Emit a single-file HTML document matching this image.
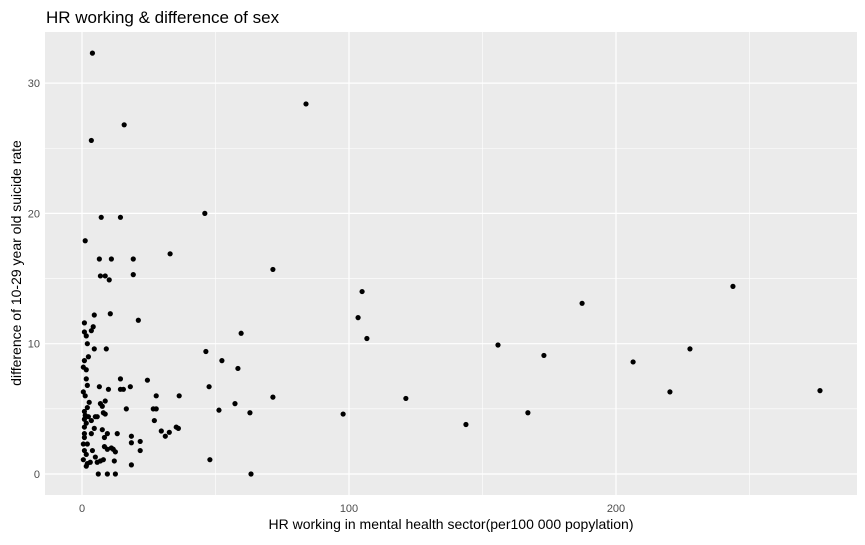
<!DOCTYPE html>
<html><head><meta charset="utf-8"><style>
body{margin:0;background:#fff;font-family:"Liberation Sans",Arial,sans-serif}
</style></head><body>
<svg id="chart" width="865" height="540" xmlns="http://www.w3.org/2000/svg">
<text x="46" y="23" font-size="17" fill="#000">HR working &amp; difference of sex</text>
<rect x="45" y="32" width="812" height="463" fill="#ebebeb"/>
<g id="grid"></g><g id="ticks"></g><g id="pts"></g>
<text x="451" y="529" font-size="14" text-anchor="middle" fill="#000">HR working in mental health sector(per100 000 popylation)</text>
<text transform="translate(21,263) rotate(-90)" font-size="14" text-anchor="middle" fill="#000">difference of 10-29 year old suicide rate</text>
</svg>
<script>
const xs=[3.9,15.8,3.5,7.2,14.4,1.2,6.5,11,19.2,33,6.9,8.7,10.2,19.2,
4.6,10.6,21.1,0.9,4.2,3.5,0.9,1.6,2.0,4.6,9.1,2.4,0.9,0.5,1.6,1.6,14.4,24.5,2,6.5,9.9,14.4,15.5,18.1,0.5,1.2,27.8,36.4,2.7,6.9,8.7,7.6,2,16.6,26.7,27.8,0.9,8,8.7,1.2,2.4,5.7,5,0.9,3.5,27.1,1.6,0.9,4.6,7.6,35.3,36.1,29.7,32.7,0.9,3.5,9.5,13.2,31.2,8.4,18.5,0.9,0.5,2,18.5,21.8,8.4,9.5,11,11.7,12.5,0.9,3.9,21.8,1.6,5,0.5,3.1,8,6.9,5.7,12.1,2,1.6,18.5,6.1,9.5,12.5,
46,71.5,83.9,104.9,103.4,106.7,59.6,46.4,52.4,58.4,47.6,71.5,57.3,51.3,62.9,47.9,63.3,97.8,121.3,143.8,155.8,167,173,187.3,206.4,220.2,227.7,243.8,276.4];
const ys=[32.3,26.8,25.6,19.7,19.7,17.9,16.5,16.5,16.5,16.9,15.2,15.2,14.9,15.3,
12.2,12.3,11.8,11.6,11.3,11.0,10.9,10.6,10.0,9.6,9.6,9.0,8.7,8.2,8.0,7.3,7.3,7.2,6.8,6.7,6.5,6.5,6.5,6.7,6.3,6.0,6.0,6.0,5.5,5.4,5.6,5.2,5.1,5.0,5.0,5.0,4.8,4.7,4.6,4.5,4.4,4.4,4.4,4.2,4.1,4.1,3.9,3.6,3.5,3.4,3.6,3.5,3.3,3.2,3.1,3.1,3.1,3.1,2.9,2.8,2.9,2.8,2.3,2.3,2.4,2.5,2.1,1.9,2.0,1.9,1.7,1.8,1.8,1.8,1.5,1.3,1.1,0.9,1.1,1.0,0.9,1.0,0.8,0.6,0.7,0,0,0,
20,15.7,28.4,14.0,12.0,10.4,10.8,9.4,8.7,8.1,6.7,5.9,5.4,4.9,4.7,1.1,0,4.6,5.8,3.8,9.9,4.7,9.1,13.1,8.6,6.3,9.6,14.4,6.4];
const xTicks=[0,100,200];
const yTicks=[0,10,20,30];
const X=v=>82+v*2.67, Y=v=>474-v*13.03;
const ns="http://www.w3.org/2000/svg";
function mk(p,t,a){const e=document.createElementNS(ns,t);for(const k in a)e.setAttribute(k,a[k]);document.getElementById(p).appendChild(e);return e;}
xTicks.forEach(v=>{
 const m=mk('grid','line',{x1:X(v+50),x2:X(v+50),y1:32,y2:495,stroke:'#fff','stroke-width':0.6});
 
 
 const g=mk('grid','line',{x1:X(v),x2:X(v),y1:32,y2:495,stroke:'#fff','stroke-width':1.2});
 
 
 const t=mk('ticks','text',{x:X(v),y:512,'font-size':11,'text-anchor':'middle',fill:'#4d4d4d'});t.textContent=v;
 
 
});
yTicks.forEach(v=>{
 if(v<30){const m=mk('grid','line',{x1:45,x2:857,y1:Y(v+5),y2:Y(v+5),stroke:'#fff','stroke-width':0.6});
 
 }
 const g=mk('grid','line',{x1:45,x2:857,y1:Y(v),y2:Y(v),stroke:'#fff','stroke-width':1.2});
 
 
 const t=mk('ticks','text',{x:40,y:Y(v)+4,'font-size':11,'text-anchor':'end',fill:'#4d4d4d'});t.textContent=v;
 
 
});
xs.forEach((v,i)=>{
 const c=mk('pts','circle',{cx:X(v),cy:Y(ys[i]),r:2.6,fill:'#000'});
 
 
});
</script>
</body></html>
